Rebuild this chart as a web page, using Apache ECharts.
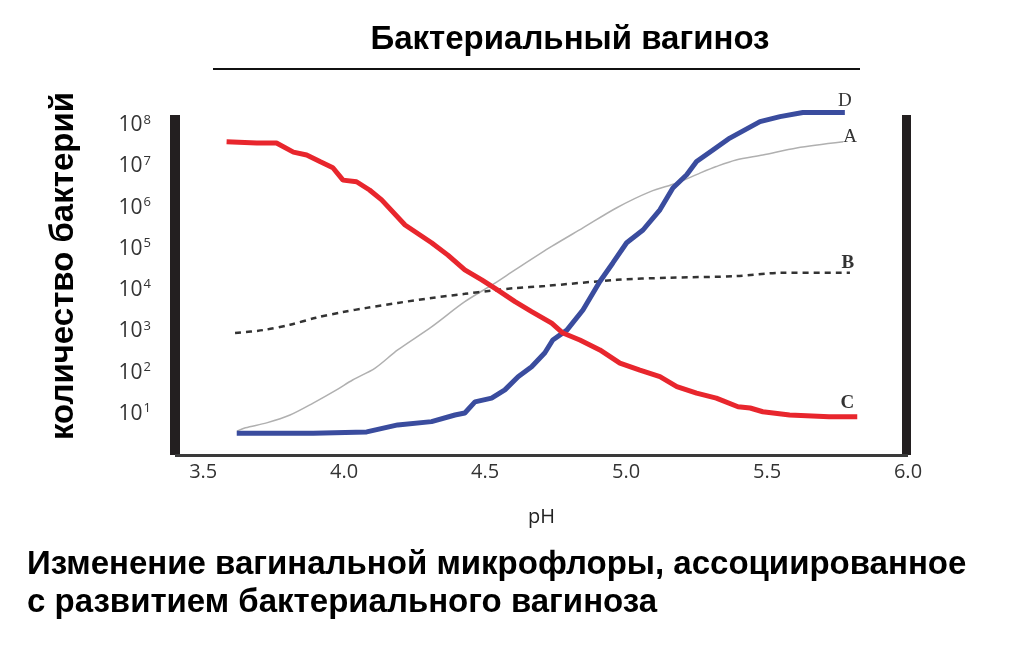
<!DOCTYPE html>
<html>
<head>
<meta charset="utf-8">
<script src="https://cdn.jsdelivr.net/npm/echarts@6/dist/echarts.min.js"></script>
<style>html,body{margin:0;padding:0;background:#fff}#c{width:1018px;height:672px}</style>
</head>
<body>
<div id="c"></div>
<script>
// pH values and log10(bacteria count)
const phA  = [3.62,3.65,3.725,3.808,3.89,3.973,4.03,4.11,4.19,4.31,4.428,4.535,4.606,4.736,4.847,4.967,5.086,5.18,5.262,5.32,5.39,5.485,5.605,5.77];
const logA = [0.58,0.66,0.78,0.97,1.26,1.58,1.82,2.11,2.55,3.11,3.72,4.17,4.49,5.06,5.51,6.00,6.39,6.60,6.84,7.00,7.16,7.28,7.45,7.60];

const phB  = [3.613,3.712,3.808,3.90,3.996,4.08,4.19,4.31,4.428,4.523,4.606,4.712,4.967,5.145,5.39,5.546,5.794];
const logB = [2.96,3.03,3.16,3.33,3.47,3.57,3.69,3.81,3.91,3.99,4.05,4.10,4.25,4.30,4.34,4.42,4.42];

const phC  = [3.583,3.69,3.76,3.82,3.867,3.914,3.96,3.996,4.044,4.09,4.133,4.216,4.31,4.368,4.428,4.488,4.545,4.606,4.665,4.736,4.776,4.836,4.907,4.978,5.049,5.12,5.18,5.25,5.32,5.397,5.44,5.485,5.58,5.72,5.82];
const logC = [7.60,7.57,7.57,7.35,7.28,7.12,6.97,6.67,6.63,6.43,6.19,5.58,5.15,4.85,4.49,4.25,4.00,3.72,3.48,3.20,2.96,2.79,2.55,2.23,2.06,1.90,1.66,1.50,1.38,1.17,1.14,1.05,0.97,0.93,0.93];

const phD  = [3.619,3.89,4.08,4.19,4.31,4.393,4.428,4.464,4.523,4.57,4.617,4.665,4.712,4.74,4.79,4.847,4.907,4.953,5.002,5.06,5.12,5.166,5.215,5.25,5.308,5.368,5.475,5.546,5.627,5.776];
const logD = [0.53,0.53,0.56,0.73,0.81,0.97,1.02,1.29,1.38,1.58,1.90,2.14,2.48,2.79,3.03,3.52,4.21,4.66,5.15,5.46,5.95,6.48,6.80,7.12,7.40,7.69,8.09,8.21,8.31,8.31];

const seriesNames = ['A','B','C','D'];
const xTickLabels = [3.5,4.0,4.5,5.0,5.5,6.0];
const yTickExponents = [1,2,3,4,5,6,7,8];

const titleText = 'Бактериальный вагиноз';
const yName = 'количество бактерий';
const xName = 'pH';
const captionLines = ['Изменение вагинальной микрофлоры, ассоциированное','с развитием бактериального вагиноза'];

const zip = (xs, ys) => xs.map((x, i) => [x, ys[i]]);
const labelFont = "'Liberation Serif', 'DejaVu Serif', serif";

const chart = echarts.init(document.getElementById('c'), null, {renderer: 'canvas'});
chart.setOption({
  animation: false,
  backgroundColor: '#fff',
  title: [
    {text: titleText, left: 570, top: 22, padding: 0, textAlign: 'center',
     textStyle: {fontFamily: "'Liberation Sans', Arial, sans-serif", fontWeight: 'bold', fontSize: 33, color: '#000', lineHeight: 36}},
    {text: captionLines.join('\n'), left: 27, top: 546, padding: 0,
     textStyle: {fontFamily: "'Liberation Sans', Arial, sans-serif", fontWeight: 'bold', fontSize: 33, color: '#000', lineHeight: 38}}
  ],
  graphic: [
    {type: 'line', shape: {x1: 213, y1: 69, x2: 860, y2: 69}, style: {stroke: '#111', lineWidth: 2}},
    {type: 'text', x: 64, y: 266, rotation: Math.PI / 2,
     style: {text: yName, fill: '#000', font: "bold 33px 'Liberation Sans', Arial, sans-serif", align: 'center', verticalAlign: 'middle'}}
  ],
  grid: {left: 175, right: 110, top: 115, bottom: 217},
  xAxis: {
    type: 'value', min: 3.4, max: 6.0, interval: 0.1,
    name: xName, nameLocation: 'middle', nameGap: 52,
    nameTextStyle: {fontFamily: "'Open Sans', sans-serif", fontSize: 20, color: '#222'},
    axisLine: {show: true, lineStyle: {color: '#3a3a3a', width: 3, cap: 'butt'}},
    axisTick: {show: false},
    splitLine: {show: false},
    axisLabel: {
      margin: 7, color: '#333', fontFamily: "'Open Sans', sans-serif", fontSize: 20,
      formatter: v => {
        const hit = xTickLabels.find(t => Math.abs(t - v) < 1e-6);
        return hit === undefined ? '' : hit.toFixed(1);
      }
    }
  },
  yAxis: [
    {
      type: 'value', min: 0, max: 8.25, interval: 1,
      axisLine: {show: true, onZero: false, lineStyle: {color: '#231f20', width: 10, cap: 'butt'}},
      axisTick: {show: false},
      splitLine: {show: false},
      axisLabel: {
        margin: 24, color: '#333',
        formatter: v => yTickExponents.includes(v) ? '{b|10}{s|' + v + '}' : '',
        rich: {
          b: {fontFamily: "'Open Sans', sans-serif", fontSize: 21, color: '#333', lineHeight: 24},
          s: {fontFamily: "'Open Sans', sans-serif", fontSize: 13, color: '#333', verticalAlign: 'top', lineHeight: 14, padding: [0, 0, 0, 1]}
        }
      }
    },
    {
      type: 'value', min: 0, max: 8.25, position: 'right', offset: -2,
      axisLine: {show: true, onZero: false, lineStyle: {color: '#231f20', width: 9, cap: 'butt'}},
      axisTick: {show: false}, splitLine: {show: false}, axisLabel: {show: false}
    }
  ],
  series: [
    {name: seriesNames[0], type: 'line', data: zip(phA, logA), showSymbol: false, smooth: 0.3, clip: false,
     lineStyle: {color: '#b0b0b0', width: 1.5}, z: 2,
     endLabel: {show: true, formatter: seriesNames[0], color: '#333', fontFamily: labelFont, fontSize: 19, align: 'center', verticalAlign: 'middle', distance: 0, offset: [7, -5]}},
    {name: seriesNames[1], type: 'line', data: zip(phB, logB), showSymbol: false, smooth: 0.3, clip: false,
     lineStyle: {color: '#333', width: 2.5, type: [6, 5]}, z: 3,
     endLabel: {show: true, formatter: seriesNames[1], color: '#333', fontFamily: labelFont, fontSize: 19, fontWeight: 'bold', align: 'center', verticalAlign: 'middle', distance: 0, offset: [-2, -10]}},
    {name: seriesNames[3], type: 'line', data: zip(phD, logD), showSymbol: false, clip: false,
     lineStyle: {color: '#3a4c9e', width: 5}, z: 4,
     endLabel: {show: true, formatter: seriesNames[3], color: '#333', fontFamily: labelFont, fontSize: 19, align: 'center', verticalAlign: 'middle', distance: 0, offset: [0, -12]}},
    {name: seriesNames[2], type: 'line', data: zip(phC, logC), showSymbol: false, clip: false,
     lineStyle: {color: '#e8262d', width: 5}, z: 5,
     endLabel: {show: true, formatter: seriesNames[2], color: '#333', fontFamily: labelFont, fontSize: 19, fontWeight: 'bold', align: 'center', verticalAlign: 'middle', distance: 0, offset: [-10, -14]}}
  ]
});
</script>
</body>
</html>
